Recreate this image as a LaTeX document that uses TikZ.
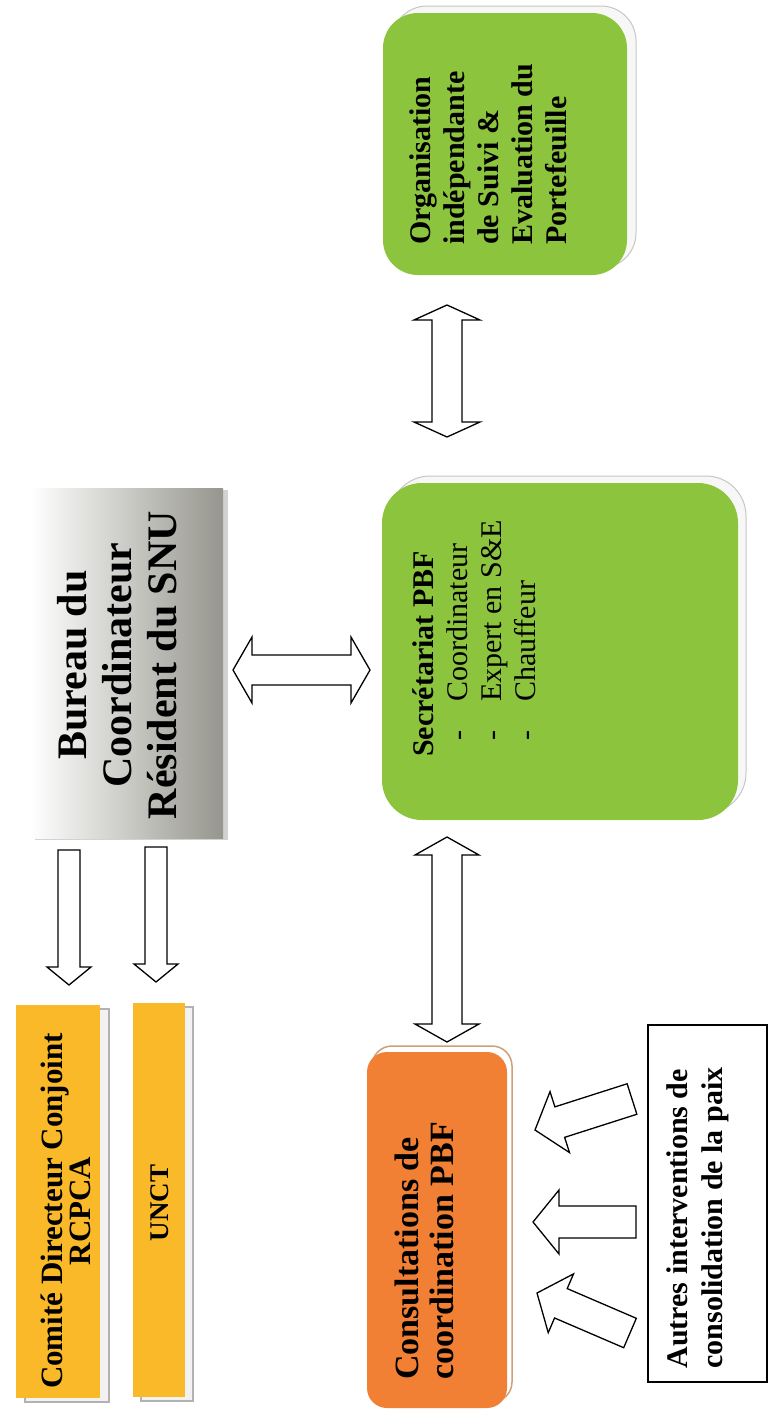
\documentclass[tikz,border=0pt]{standalone}
\usepackage{fontspec}
\setmainfont{Liberation Serif}
\usetikzlibrary{calc,shadows}
\definecolor{cyellow}{RGB}{250,185,40}
\definecolor{cgreen}{RGB}{140,196,62}
\definecolor{corange}{RGB}{242,128,52}
\definecolor{cgray}{RGB}{150,150,142}
\definecolor{ctan}{RGB}{205,160,120}
% double block arrow: #1 tip A, #2 tip B, #3 shaft half width, #4 head half width, #5 head length
\newcommand\dblblock[5]{\draw[blkarrow] (#1)
 -- ($(#1)!#5!(#2)!#4!90:(#2)$)
 -- ($(#1)!#5!(#2)!#3!90:(#2)$)
 -- ($(#2)!#5!(#1)!#3!90:(#2)$)
 -- ($(#2)!#5!(#1)!#4!90:(#2)$)
 -- (#2)
 -- ($(#2)!#5!(#1)!#4!-90:(#2)$)
 -- ($(#2)!#5!(#1)!#3!-90:(#2)$)
 -- ($(#1)!#5!(#2)!#3!-90:(#2)$)
 -- ($(#1)!#5!(#2)!#4!-90:(#2)$)
 -- cycle;}
% single block arrow: #1 tail, #2 tip
\newcommand\sglblock[5]{\draw[blkarrow] ($(#1)!#3!90:(#2)$)
 -- ($(#2)!#5!(#1)!#3!90:(#2)$)
 -- ($(#2)!#5!(#1)!#4!90:(#2)$)
 -- (#2)
 -- ($(#2)!#5!(#1)!#4!-90:(#2)$)
 -- ($(#2)!#5!(#1)!#3!-90:(#2)$)
 -- ($(#1)!#3!-90:(#2)$)
 -- cycle;}
\begin{document}
\begin{tikzpicture}[x=1pt,y=-1pt,
  blkarrow/.style={draw=black, fill=white, line width=1.3pt, line join=miter},
  rtxt/.style={rotate=90, inner sep=0pt, text=black},
  box/.style={inner sep=0pt, draw=none}]
\useasboundingbox (0,0) rectangle (775,1414);
% ---------- boxes
\node[box, fill=cyellow, minimum width=84pt, minimum height=393pt,
  copy shadow={shadow xshift=9pt, shadow yshift=-4pt, fill=gray!10, draw=gray!60, line width=1.5pt}]
  (comite) at (58,1201.5) {};
\node[box, fill=cyellow, minimum width=52pt, minimum height=394pt,
  copy shadow={shadow xshift=8pt, shadow yshift=-4pt, fill=gray!10, draw=gray!60, line width=1.5pt}]
  (unct) at (159,1200) {};
\node[box, left color=white, middle color=gray!18, right color=cgray, minimum width=193pt, minimum height=350pt,
  copy shadow={shadow xshift=5pt, shadow yshift=-2pt, fill=gray!35, draw=none}]
  (bureau) at (126.5,663) {};
\node[box, fill=cgreen, rounded corners=40pt, minimum width=356pt, minimum height=337pt,
  copy shadow={shadow xshift=8pt, shadow yshift=7pt, fill=gray!6, draw=gray!45, line width=1pt}]
  (sec) at (560,651.5) {};
\node[box, fill=cgreen, rounded corners=35pt, minimum width=244pt, minimum height=262pt,
  copy shadow={shadow xshift=9pt, shadow yshift=7pt, fill=gray!6, draw=gray!45, line width=1pt}]
  (org) at (505,144) {};
\node[box, fill=corange, rounded corners=20pt, minimum width=140pt, minimum height=356pt,
  copy shadow={shadow xshift=5pt, shadow yshift=6pt, fill=white, draw=ctan, line width=1.5pt}]
  (cons) at (437,1230) {};
\node[box, draw=black, line width=1.2pt, fill=white, minimum width=119pt, minimum height=357pt]
  (autres) at (707.5,1203.5) {};
% ---------- texts
\node[rtxt, align=center, font=\fontsize{31}{25}\selectfont\bfseries] (comiteT) at (66,1211)
  {Comité Directeur Conjoint\\RCPCA};
\node[rtxt, font=\fontsize{27}{27}\selectfont\bfseries] (unctT) at (160,1203) {UNCT};
\node[rtxt, align=center, font=\fontsize{42}{45}\selectfont\bfseries] (bureauT) at (117,665)
  {Bureau du\\Coordinateur\\Résident du SNU};
\node[rtxt, align=left, anchor=north west, font=\fontsize{30}{34}\selectfont] (secT) at (412,757)
  {\textbf{Secrétariat PBF}\\
   \hspace*{16pt}-\hspace*{29pt}Coordinateur\\
   \hspace*{16pt}-\hspace*{29pt}Expert en S\&E\\
   \hspace*{16pt}-\hspace*{29pt}Chauffeur};
\node[rtxt, align=left, anchor=north west, font=\fontsize{30}{34}\selectfont\bfseries] (orgT) at (409,245)
  {Organisation\\indépendante\\de Suivi \&\\Evaluation du\\Portefeuille};
\node[rtxt, align=left, font=\fontsize{34}{35}\selectfont\bfseries] (consT) at (424,1251)
  {Consultations de\\coordination PBF};
\node[rtxt, align=left, font=\fontsize{30}{35}\selectfont\bfseries] (autT) at (698,1218)
  {Autres interventions de\\consolidation de la paix};
% ---------- arrow end points
\coordinate (bs1) at (233,670);  \coordinate (bs2) at (370,670);
\coordinate (os1) at (447,305);  \coordinate (os2) at (447,437);
\coordinate (sc1) at (447,837);  \coordinate (sc2) at (447,1042);
\coordinate (bc1) at (69,850);   \coordinate (bc2) at (69,985);
\coordinate (bu1) at (156,847);  \coordinate (bu2) at (156,982);
\coordinate (a1t) at (632,1099); \coordinate (a1h) at (535,1130);
\coordinate (a2t) at (636,1222); \coordinate (a2h) at (533,1222);
\coordinate (a3t) at (630,1333); \coordinate (a3h) at (537,1293);
% ---------- arrows
\dblblock{bs1}{bs2}{15pt}{33pt}{19pt}
\dblblock{os1}{os2}{15pt}{33pt}{15pt}
\dblblock{sc1}{sc2}{15pt}{32pt}{18pt}
\sglblock{bc1}{bc2}{11pt}{22pt}{18pt}
\sglblock{bu1}{bu2}{11pt}{22pt}{18pt}
\sglblock{a1t}{a1h}{16pt}{32pt}{26pt}
\sglblock{a2t}{a2h}{16pt}{32pt}{26pt}
\sglblock{a3t}{a3h}{16pt}{32pt}{26pt}
\end{tikzpicture}
\end{document}
